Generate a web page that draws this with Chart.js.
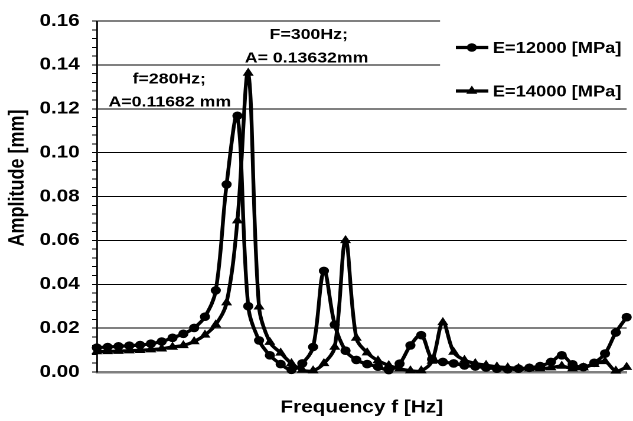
<!DOCTYPE html>
<html>
<head>
<meta charset="utf-8">
<script src="https://cdn.jsdelivr.net/npm/chart.js@4"></script>
<style>
html,body{margin:0;padding:0;background:#fff;overflow:hidden;}
#wrap{width:536px;height:421px;transform:scaleX(1.181);transform-origin:0 0;}
</style>
</head>
<body>
<div id="wrap"><canvas id="c" width="536" height="421"></canvas></div>
<script>
// ---- data ----
const frequencies = [20,40,60,80,100,120,140,160,180,200,
  220,240,260,280,300,320,340,360,380,400,
  420,440,460,480,500,520,540,560,580,600,
  620,640,660,680,700,720,740,760,780,800,
  820,840,860,880,900,920,940,960,980,1000];

const amplitudeE12000 = [0.0111,0.0114,0.0117,0.0120,0.0123,0.0129,0.0139,0.0156,0.0174,0.0201,
  0.0252,0.0372,0.0855,0.1168,0.0300,0.0144,0.0076,0.0036,0.0010,0.0039,
  0.0114,0.0461,0.0216,0.0097,0.0055,0.0036,0.0024,0.0009,0.0038,0.0121,
  0.0168,0.0058,0.0046,0.0039,0.0030,0.0025,0.0020,0.0015,0.0012,0.0015,
  0.0019,0.0027,0.0046,0.0076,0.0035,0.0022,0.0042,0.0084,0.0180,0.0250];

const amplitudeE14000 = [0.0093,0.0094,0.0095,0.0097,0.0099,0.0102,0.0106,0.0114,0.0121,0.0139,
  0.0169,0.0216,0.0316,0.0690,0.1363,0.0297,0.0136,0.0087,0.0039,0.0009,
  0.0006,0.0039,0.0114,0.0600,0.0155,0.0088,0.0052,0.0030,0.0015,0.0006,
  0.0006,0.0050,0.0226,0.0091,0.0054,0.0039,0.0031,0.0024,0.0020,0.0017,
  0.0015,0.0015,0.0020,0.0027,0.0015,0.0020,0.0035,0.0048,0.0005,0.0022];

const seriesLabels = ['E=12000 [MPa]', 'E=14000 [MPa]'];
const seriesMarkers = ['circle', 'triangle'];
const yMin = 0, yMax = 0.16, yMinorStep = 0.004, yMajorStep = 0.02;
const xTitle = 'Frequency f [Hz]';
const yTitle = 'Amplitude [mm]';
const annotationTexts = ['f=280Hz;', 'A=0.11682 mm', 'F=300Hz;', 'A= 0.13632mm'];
const annotationFreqs = [154, 155, 412, 408];
const annotationAmps = [0.1335, 0.1229, 0.1537, 0.1429];

// ---- chart ----
const FONT = "'Liberation Sans', Arial, Helvetica, sans-serif";
const isMajor = v => { const k = v / yMajorStep; return Math.abs(k - Math.round(k)) < 1e-6; };
const toPoints = arr => arr.map((v, i) => ({x: frequencies[i], y: v}));

const overlay = {
  id: 'overlay',
  beforeDatasetsDraw(chart) {
    const ctx = chart.ctx;
    ctx.save();
    ctx.fillStyle = '#fff';
    ctx.fillRect(372.6, 20, 536 - 372.6, 83);
    ctx.restore();
  },
  afterDatasetsDraw(chart) {
    const ctx = chart.ctx;
    const xs = chart.scales.x, ys = chart.scales.y;
    ctx.save();
    // legend
    const rows = [47.5, 91];
    chart.data.datasets.forEach((ds, i) => {
      const y = rows[i];
      ctx.strokeStyle = '#000';
      ctx.lineWidth = ds.borderWidth;
      ctx.beginPath();
      ctx.moveTo(386, y);
      ctx.lineTo(413.5, y);
      ctx.stroke();
      ctx.fillStyle = '#000';
      Chart.helpers.drawPoint(ctx, {pointStyle: ds.pointStyle, rotation: 0, radius: ds.pointRadius, borderWidth: 0}, 399.5, y);
      ctx.font = 'bold 15.5px ' + FONT;
      ctx.textAlign = 'left';
      ctx.textBaseline = 'middle';
      ctx.fillText(ds.label, 417.2, y + 1);
    });
    // annotations
    ctx.font = 'bold 15px ' + FONT;
    ctx.textAlign = 'center';
    ctx.textBaseline = 'middle';
    ctx.fillStyle = '#000';
    annotationTexts.forEach((t, i) => {
      ctx.fillText(t, xs.getPixelForValue(annotationFreqs[i]), ys.getPixelForValue(annotationAmps[i]));
    });
    // y axis title
    ctx.translate(14.8, 178);
    ctx.rotate(-Math.PI / 2);
    ctx.font = 'bold 18px ' + FONT;
    ctx.fillText(yTitle, 0, 0);
    ctx.restore();
  }
};

const common = {borderColor: '#000', backgroundColor: '#000', pointBackgroundColor: '#000',
  pointBorderColor: '#000', pointBorderWidth: 0, borderWidth: 3.2, tension: 0.35, fill: false, clip: false};

new Chart(document.getElementById('c'), {
  type: 'line',
  data: {
    datasets: [
      Object.assign({label: seriesLabels[0], data: toPoints(amplitudeE12000), pointStyle: seriesMarkers[0], pointRadius: 4.3}, common),
      Object.assign({label: seriesLabels[1], data: toPoints(amplitudeE14000), pointStyle: seriesMarkers[1], pointRadius: 5.4}, common)
    ]
  },
  options: {
    responsive: false,
    animation: false,
    devicePixelRatio: 2,
    layout: {padding: {top: 16, right: 1, bottom: 0, left: 0}},
    plugins: {legend: {display: false}, tooltip: {enabled: false}},
    scales: {
      x: {
        type: 'linear', min: frequencies[0], max: frequencies[frequencies.length - 1],
        ticks: {display: false},
        grid: {display: false},
        border: {display: true, color: '#808080', width: 2.5},
        title: {display: true, text: xTitle, color: '#000', font: {family: FONT, size: 17.6, weight: 'bold'}, padding: {top: 0, bottom: 3}},
        afterFit(s) { s.height = 49; }
      },
      y: {
        min: yMin, max: yMax,
        ticks: {
          stepSize: yMinorStep, autoSkip: false, padding: 10.5, color: '#000',
          font: {family: FONT, size: 17.5, weight: 'bold'},
          callback: v => isMajor(v) ? v.toFixed(2) : ''
        },
        grid: {
          color: c => (c.tick && c.tick.value > 1e-9 && isMajor(c.tick.value)) ? '#000' : 'rgba(0,0,0,0)',
          lineWidth: 1, drawTicks: true, tickLength: 4, tickColor: '#000', tickWidth: 1
        },
        border: {display: true, color: '#000', width: 1.4},
        afterFit(s) { s.width = 82; }
      }
    }
  },
  plugins: [overlay]
});
</script>
</body>
</html>
